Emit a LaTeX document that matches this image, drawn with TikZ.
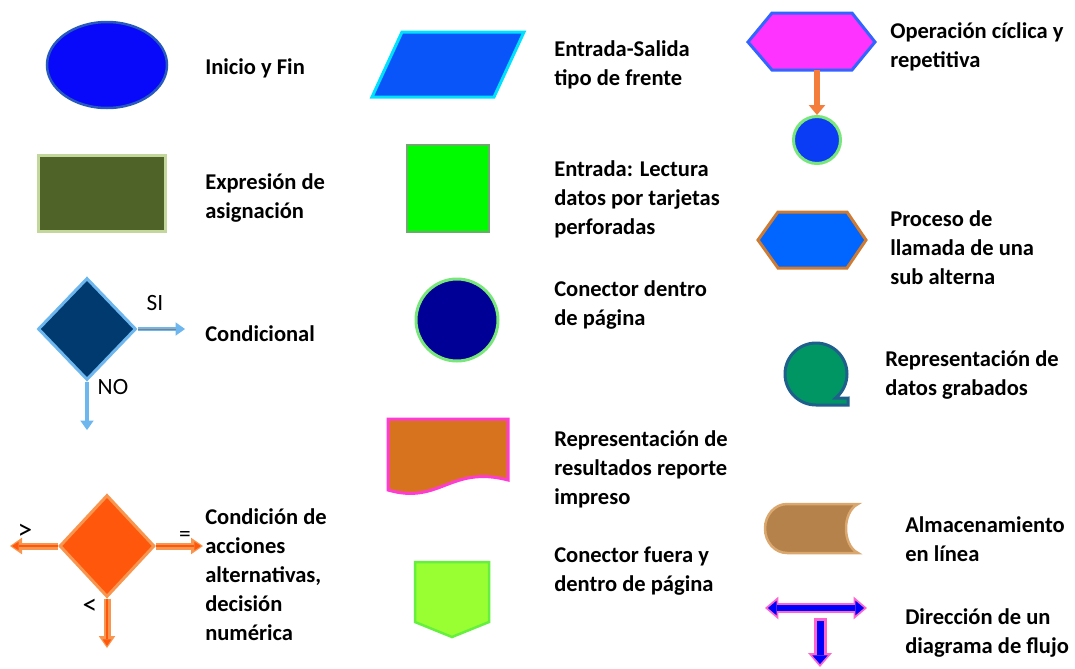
\documentclass[tikz,border=0pt]{standalone}
\usepackage{fontspec}
\setmainfont{Carlito}
\usepackage{tikz}
\usetikzlibrary{arrows.meta,shapes.geometric,backgrounds}

\definecolor{azulIni}{RGB}{8,8,250}
\definecolor{bordeIni}{RGB}{40,90,190}
\definecolor{verdeAsig}{RGB}{79,98,40}
\definecolor{bordeAsig}{RGB}{195,214,155}
\definecolor{azulCond}{RGB}{0,58,110}
\definecolor{celeste}{RGB}{110,182,238}
\definecolor{naranjaCond}{RGB}{255,88,12}
\definecolor{naranjaClaro}{RGB}{248,150,80}
\definecolor{azulES}{RGB}{10,85,250}
\definecolor{cian}{RGB}{0,225,255}
\definecolor{verdeTarj}{RGB}{0,250,0}
\definecolor{bordeTarj}{RGB}{110,170,110}
\definecolor{marino}{RGB}{0,0,150}
\definecolor{verdeClaro}{RGB}{120,230,120}
\definecolor{ocre}{RGB}{215,115,30}
\definecolor{rosaFuerte}{RGB}{255,60,210}
\definecolor{lima}{RGB}{153,255,51}
\definecolor{bordeLima}{RGB}{100,240,60}
\definecolor{magentaHex}{RGB}{255,51,255}
\definecolor{azulBorde}{RGB}{50,100,255}
\definecolor{naranjaFlecha}{RGB}{245,125,60}
\definecolor{azulCiclo}{RGB}{10,60,245}
\definecolor{azulProc}{RGB}{0,102,255}
\definecolor{cobre}{RGB}{205,122,50}
\definecolor{verdeGrab}{RGB}{0,150,100}
\definecolor{bordeGrab}{RGB}{30,95,140}
\definecolor{cafe}{RGB}{182,130,75}
\definecolor{cafeClaro}{RGB}{218,168,110}
\definecolor{rosa}{RGB}{255,102,204}
\definecolor{azulDir}{RGB}{0,0,250}

\newcommand{\pix}{0.75pt}

\tikzset{
  texto/.style={anchor=west,align=left,inner sep=0pt,yshift=-3.5*\pix,
    font=\fontsize{16.9}{21.75}\selectfont\bfseries,
    execute at begin node=\strut,execute at end node=\strut},
  marca/.style={inner sep=0pt,font=\fontsize{17.5}{20}\selectfont},
  signo/.style={inner sep=0pt,font=\fontsize{22}{25}\selectfont},
  figura/.style={line width=3*\pix},
  flechaCeleste/.style={celeste,line width=4*\pix,-{Triangle[width=10pt,length=7pt,line width=0pt]}},
  naranjaFuera/.style={naranjaClaro,line width=7*\pix,-{Triangle[width=12.5pt,length=9pt,line width=0pt]}},
  naranjaDentro/.style={naranjaCond,line width=2.5*\pix,shorten >=1.5pt,-{Triangle[width=6.5pt,length=5pt,line width=0pt]}},
}

\begin{document}
\begin{tikzpicture}[x=0.75pt,y=-0.75pt]
\useasboundingbox (0,0) rectangle (1075,668);

% columna izquierda
\node[ellipse,figura,line width=2.5*\pix,draw=bordeIni,fill=azulIni,minimum width=120*\pix,minimum height=86*\pix] (inicio) at (107,65) {};
\node[texto] (tInicio) at (205,65) {Inicio y Fin};

\node[rectangle,figura,draw=bordeAsig,fill=verdeAsig,minimum width=127*\pix,minimum height=76*\pix] (asig) at (101.5,193) {};
\node[texto] (tAsig) at (205,197) {Expresión de\\asignación};

\node[diamond,figura,draw=celeste,fill=azulCond,inner sep=0pt,minimum width=98*\pix,minimum height=102*\pix] (cond) at (87,329) {};
\coordinate (siFin) at (185,329);
\coordinate (noFin) at (87,430);
\begin{pgfonlayer}{background}
\draw[flechaCeleste] (cond.east) -- (siFin);
\draw[gray,line width=1*\pix,shorten >=7pt] (cond.east) -- (siFin);
\draw[flechaCeleste] (cond.south) -- (noFin);
\end{pgfonlayer}
\node[marca] (si) at (155,303) {SI};
\node[marca] (no) at (113,387) {NO};
\node[texto] (tCond) at (205,332) {Condicional};

\node[diamond,figura,draw=naranjaClaro,fill=naranjaCond,inner sep=0pt,minimum width=95*\pix,minimum height=102*\pix] (acc) at (107,546) {};
\coordinate (mayor) at (10,546);
\coordinate (igual) at (203,546);
\coordinate (menor) at (107,648);
\begin{pgfonlayer}{background}
\foreach \ancla/\fin in {west/mayor,east/igual,south/menor}{
  \draw[naranjaFuera] (acc.\ancla) -- (\fin);
  \draw[naranjaDentro] (acc.\ancla) -- (\fin);
}
\end{pgfonlayer}
\node[signo] (lMayor) at (25,532) {>};
\node[marca] (lIgual) at (185,536) {=};
\node[signo] (lMenor) at (90,607) {<};
\node[texto] (tAcc) at (205,575) {Condición de\\acciones\\alternativas,\\decisión\\numérica};

% columna central
\draw[figura,draw=cian,fill=azulES] (372,97) -- (402,32) -- (524,32) -- (494,97) -- cycle;
\node[texto] (tES) at (554,64) {Entrada-Salida\\tipo de frente};

\node[rectangle,figura,line width=2*\pix,draw=bordeTarj,fill=verdeTarj,minimum width=82*\pix,minimum height=87*\pix] (tarjeta) at (448,188.5) {};
\node[texto] (tTarj) at (554,198) {Entrada: Lectura\\datos por tarjetas\\perforadas};

\node[circle,figura,draw=verdeClaro,fill=marino,minimum size=82*\pix] (dentro) at (457,320) {};
\node[texto] (tDentro) at (554,304) {Conector dentro\\de página};

\draw[figura,draw=rosaFuerte,fill=ocre] (388,419) -- (508,419) -- (508,480) .. controls (450,465) and (440,505) .. (388,490) -- cycle;
\node[texto] (tRep) at (554,468) {Representación de\\resultados reporte\\impreso};

\draw[figura,line width=2.5*\pix,draw=bordeLima,fill=lima] (415,562) -- (489,562) -- (489,622) -- (452,637) -- (415,622) -- cycle;
\node[texto] (tFuera) at (554,570) {Conector fuera y\\dentro de página};

% columna derecha
\draw[figura,draw=azulBorde,fill=magentaHex] (748,42) -- (772,13) -- (852,13) -- (875,42) -- (852,70) -- (772,70) -- cycle;
\coordinate (hexAbajo) at (817,70);
\node[circle,figura,draw=verdeClaro,fill=azulCiclo,minimum size=47*\pix] (ciclo) at (817,140) {};
\draw[naranjaFlecha,line width=6*\pix,-{Triangle[width=12.5pt,length=7.5pt,line width=0pt]}] (hexAbajo) -- (ciclo.north);
\node[texto] (tCiclo) at (890,46) {Operación cíclica y\\repetitiva};

\draw[figura,draw=cobre,fill=azulProc] (758,240) -- (778,212) -- (847,212) -- (866,240) -- (847,268) -- (778,268) -- cycle;
\node[texto] (tProc) at (890,248) {Proceso de\\llamada de una\\sub alterna};

\draw[figura,draw=bordeGrab,fill=verdeGrab] (816,405) arc[start angle=90,end angle=411,radius=31] -- (848,398) -- (848,405) -- cycle;
\node[texto] (tGrab) at (885,374) {Representación de\\datos grabados};

\draw[figura,line width=2.5*\pix,draw=cafeClaro,fill=cafe] (858,504) -- (787,504) arc[start angle=-90,end angle=-270,x radius=22,y radius=24.5] -- (858,553) .. controls (842,545) and (842,512) .. (858,504) -- cycle;
\node[texto] (tAlm) at (905,540) {Almacenamiento\\en línea};

\coordinate (dirIzq) at (765,608);
\coordinate (dirDer) at (867,608);
\coordinate (dirArriba) at (820,618);
\coordinate (dirAbajo) at (820,667);
\draw[rosa,line width=10*\pix,{Triangle[width=17pt,length=10pt,line width=0pt]}-{Triangle[width=17pt,length=10pt,line width=0pt]}] (dirIzq) -- (dirDer);
\draw[azulDir,line width=6*\pix,shorten <=2.2pt,shorten >=2.2pt,{Triangle[width=11pt,length=6.5pt,line width=0pt]}-{Triangle[width=11pt,length=6.5pt,line width=0pt]}] (dirIzq) -- (dirDer);
\draw[rosa,line width=13*\pix,-{Triangle[width=18pt,length=10.5pt,line width=0pt]}] (dirArriba) -- (dirAbajo);
\draw[azulDir,line width=7*\pix,shorten <=2.2pt,shorten >=2.2pt,-{Triangle[width=11.5pt,length=6.5pt,line width=0pt]}] (dirArriba) -- (dirAbajo);
\node[texto] (tDir) at (905,632) {Dirección de un\\diagrama de flujo};
\end{tikzpicture}
\end{document}
